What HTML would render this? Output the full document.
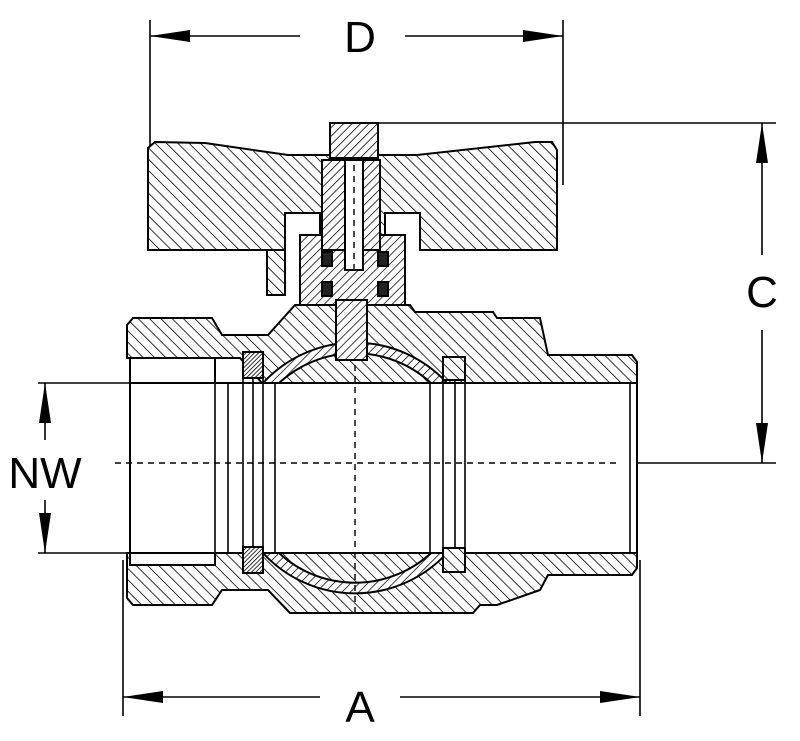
<!DOCTYPE html>
<html><head><meta charset="utf-8"><style>html,body{margin:0;padding:0;background:#fff}svg{display:block}</style></head>
<body>
<svg width="800" height="741" viewBox="0 0 800 741" xmlns="http://www.w3.org/2000/svg">
<defs>
<pattern id="h1" patternUnits="userSpaceOnUse" width="8" height="8" patternTransform="rotate(-45)"><rect width="8" height="8" fill="#fff"/><line x1="0" y1="0" x2="0" y2="8" stroke="#000" stroke-width="1.6"/></pattern>
<pattern id="h2" patternUnits="userSpaceOnUse" width="6" height="6" patternTransform="rotate(45)"><rect width="6" height="6" fill="#fff"/><line x1="0" y1="0" x2="0" y2="6" stroke="#000" stroke-width="1.5"/></pattern>
<pattern id="h3" patternUnits="userSpaceOnUse" width="3" height="3" patternTransform="rotate(45)"><rect width="3" height="3" fill="#fff"/><line x1="0" y1="0" x2="0" y2="3" stroke="#000" stroke-width="1.6"/></pattern>
</defs>
<g stroke="#000" stroke-width="2" fill="none">
<line x1="150" y1="20" x2="150" y2="250" stroke-width="1.6"/>
<line x1="563" y1="20" x2="563" y2="185" stroke-width="1.6"/>
<line x1="150" y1="36" x2="300" y2="36" stroke-width="1.6"/>
<line x1="405" y1="36" x2="563" y2="36" stroke-width="1.6"/>
<line x1="360" y1="123" x2="776" y2="123" stroke-width="1.6"/>
<line x1="620" y1="463" x2="776" y2="463" stroke-width="1.6"/>
<line x1="762" y1="123" x2="762" y2="255" stroke-width="1.6"/>
<line x1="762" y1="330" x2="762" y2="463" stroke-width="1.6"/>
<line x1="38" y1="383" x2="215" y2="383" stroke-width="1.6"/>
<line x1="38" y1="553" x2="130" y2="553" stroke-width="1.6"/>
<line x1="45" y1="383" x2="45" y2="440" stroke-width="1.6"/>
<line x1="45" y1="500" x2="45" y2="553" stroke-width="1.6"/>
<line x1="123" y1="560" x2="123" y2="716" stroke-width="1.6"/>
<line x1="640" y1="560" x2="640" y2="716" stroke-width="1.6"/>
<line x1="123" y1="697" x2="320" y2="697" stroke-width="1.6"/>
<line x1="400" y1="697" x2="640" y2="697" stroke-width="1.6"/>
</g>
<g fill="#000">
<polygon points="150,36 190,30 190,42"/><polygon points="563,36 523,30 523,42"/>
<polygon points="762,123 756,163 768,163"/><polygon points="762,463 756,423 768,423"/>
<polygon points="45,383 39,423 51,423"/><polygon points="45,553 39,513 51,513"/>
<polygon points="123,697 163,691 163,703"/><polygon points="640,697 600,691 600,703"/>
</g>
<g font-family="Liberation Sans, sans-serif" font-size="44" fill="#000" text-anchor="middle">
<text x="360" y="52">D</text><text x="762" y="307">C</text><text x="45" y="488">NW</text><text x="360" y="722">A</text>
</g>
<g stroke="#000" stroke-width="2">
<polygon fill="url(#h1)" points="148,148 155,142 205,143 288,155 417,155 535,142 552,142 557,150 557,250 420,250 420,213 385,213 385,250 320,250 320,213 285,213 285,250 148,250"/>
<rect x="267" y="250" width="18" height="45" fill="url(#h1)"/>
<polyline points="285,250 285,213 320,213 320,250" fill="#fff"/>
<polygon fill="url(#h1)" points="127,325 133,318 212,318 222,335 268,335 295,305 410,305 415,312 493,312 497,318 540,318 548,355 632,355 637,362 637,383 262,383 240,358 127,358"/>
<polygon fill="url(#h1)" points="127,598 133,605 212,605 222,590 268,590 290,613 473,613 480,605 497,605 540,590 548,575 632,575 637,568 637,553 127,553 127,565"/>
<rect x="130" y="383" width="507" height="170" fill="#fff"/>
<rect x="130" y="358" width="85" height="25" fill="#fff"/>
<rect x="130" y="553" width="85" height="12" fill="#fff"/>
<path d="M263,383 A125,125 0 0 1 447,383 L431,383 A112,112 0 0 0 279,383 Z" fill="url(#h2)"/>
<path d="M263,553 A125,125 0 0 0 447,553 L431,553 A112,112 0 0 1 279,553 Z" fill="url(#h2)"/>
<rect x="243" y="352" width="20" height="26" fill="url(#h3)"/>
<rect x="243" y="547" width="20" height="26" fill="url(#h3)"/>
<rect x="443" y="357" width="22" height="23" fill="url(#h1)"/>
<rect x="443" y="548" width="22" height="24" fill="url(#h1)"/>
<rect x="300" y="235" width="105" height="70" fill="url(#h2)"/>
<rect x="322" y="160" width="58" height="90" fill="url(#h2)"/>
<rect x="330" y="123" width="48" height="35" fill="url(#h2)"/>
<rect x="336" y="300" width="31" height="60" fill="url(#h2)"/>
<rect x="345" y="160" width="18" height="110" fill="#fff"/>
<g fill="#222"><rect x="322" y="252" width="10" height="14"/><rect x="378" y="252" width="10" height="14"/><rect x="322" y="282" width="10" height="14"/><rect x="378" y="282" width="10" height="14"/></g>
</g>
<g stroke="#000" stroke-width="1.6">
<line x1="130" y1="358" x2="130" y2="565"/><line x1="215" y1="383" x2="215" y2="553"/>
<line x1="228" y1="383" x2="228" y2="553"/><line x1="243" y1="378" x2="243" y2="547"/>
<line x1="253" y1="378" x2="253" y2="547"/><line x1="263" y1="378" x2="263" y2="547"/>
<line x1="275" y1="383" x2="275" y2="553"/><line x1="430" y1="383" x2="430" y2="553"/>
<line x1="443" y1="380" x2="443" y2="548"/><line x1="455" y1="380" x2="455" y2="548"/>
<line x1="465" y1="380" x2="465" y2="548"/><line x1="630" y1="383" x2="630" y2="553"/>
</g>
<g stroke="#000" stroke-width="1.4" stroke-dasharray="6,5">
<line x1="115" y1="463" x2="620" y2="463"/>
<line x1="355" y1="365" x2="355" y2="613"/>
<line x1="354" y1="165" x2="354" y2="270"/>
</g>
</svg>
</body></html>
